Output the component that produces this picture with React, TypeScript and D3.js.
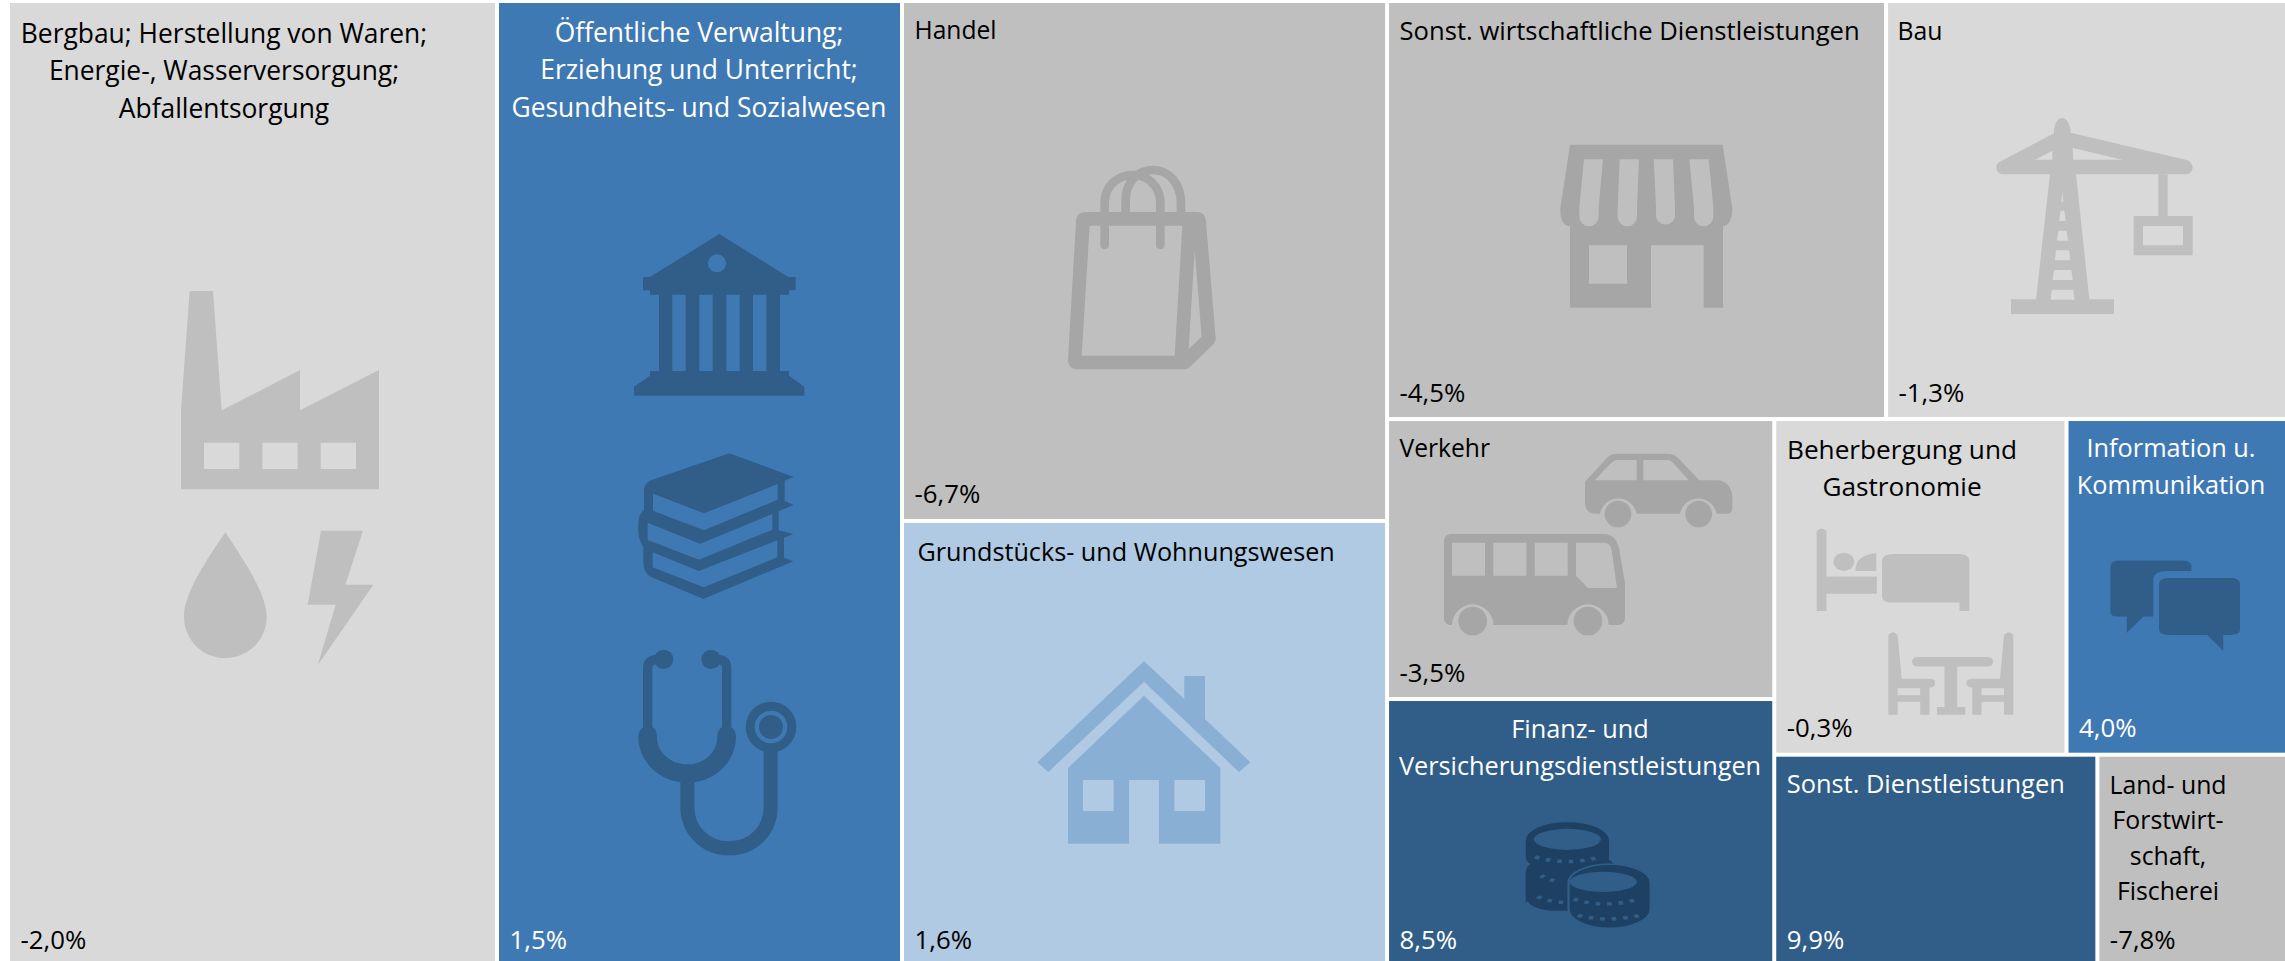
import React from "react";
import * as d3 from "d3";

const W = 2285, H = 961;
const LEFT = 10, TOP = 3;

// ---- data ----
const sectorIds = ["mining","public","trade","realestate","business","construction","transport","finance","hospitality","ict","otherServices","agriculture"];
const sectorLabels = [
  ["Bergbau; Herstellung von Waren;","Energie-, Wasserversorgung;","Abfallentsorgung"],
  ["Öffentliche Verwaltung;","Erziehung und Unterricht;","Gesundheits- und Sozialwesen"],
  ["Handel"],
  ["Grundstücks- und Wohnungswesen"],
  ["Sonst. wirtschaftliche Dienstleistungen"],
  ["Bau"],
  ["Verkehr"],
  ["Finanz- und","Versicherungsdienstleistungen"],
  ["Beherbergung und","Gastronomie"],
  ["Information u.","Kommunikation"],
  ["Sonst. Dienstleistungen"],
  ["Land- und","Forstwirt-","schaft,","Fischerei"],
];
const sectorSizes = [470.4,389.6,252.2,214.4,208.6,167.6,108.4,102.2,98.1,74.0,67.3,39.5];
const sectorChanges = [-2.0,1.5,-6.7,1.6,-4.5,-1.3,-3.5,8.5,-0.3,4.0,9.9,-7.8];
const sectorTones = ["gray","blue","mid","light","mid","gray","mid","dark","gray","blue","dark","mid"];

// ---- style ----
const toneNames = ["gray","mid","light","blue","dark"];
const toneFill = d3.scaleOrdinal<string,string>().domain(toneNames).range(["#D9D9D9","#BFBFBF","#AFCAE2","#3F79B4","#305E88"]);
const toneIcon = d3.scaleOrdinal<string,string>().domain(toneNames).range(["#BFBFBF","#A6A6A6","#8AAFD4","#305E88","#1E4062"]);
const toneText = d3.scaleOrdinal<string,string>().domain(toneNames).range(["#000","#000","#000","#fff","#fff"]);

// where the text sits inside each cell
const textLayout: Record<string,{cx:number|null,y:number,vy:number,fs:number,dx?:number}> = {
  mining:{cx:224,y:43,vy:949,fs:26.4},
  public:{cx:699,y:42,vy:949,fs:26.4},
  trade:{cx:null,y:39,vy:503,fs:24.6},
  realestate:{cx:null,y:561,vy:949,fs:25.2,dx:3},
  business:{cx:null,y:40,vy:402,fs:25.6},
  construction:{cx:null,y:40,vy:402,fs:24.8,dx:-1},
  transport:{cx:null,y:457,vy:682,fs:24.6},
  finance:{cx:1580,y:738,vy:949,fs:25.3},
  hospitality:{cx:1902,y:459,vy:737,fs:26.2},
  ict:{cx:2171,y:457,vy:737,fs:25.3},
  otherServices:{cx:null,y:793,vy:949,fs:25.4},
  agriculture:{cx:2168,y:794,vy:949,fs:24.8},
};
const VALUE_FS = 25.8;
const lineStep: Record<string,number> = {agriculture:35.4,hospitality:37,ict:37,finance:37};

type N = {id?:string,dir?:"h"|"v",value?:number,children?:N[]};
const leaf = (id:string):N => ({id,value:sectorSizes[sectorIds.indexOf(id)]});
const tree:N = {dir:"h",children:[
  leaf("mining"),leaf("public"),
  {dir:"v",children:[leaf("trade"),leaf("realestate")]},
  {dir:"v",children:[
    {dir:"h",children:[leaf("business"),leaf("construction")]},
    {dir:"h",children:[
      {dir:"v",children:[leaf("transport"),leaf("finance")]},
      {dir:"v",children:[
        {dir:"h",children:[leaf("hospitality"),leaf("ict")]},
        {dir:"h",children:[leaf("otherServices"),leaf("agriculture")]},
      ]},
    ]},
  ]},
]};

const tile = (node:any,x0:number,y0:number,x1:number,y1:number) =>
  (node.data.dir==="h"?d3.treemapDice:d3.treemapSlice)(node,x0,y0,x1,y1);

const root = d3.treemap<N>().tile(tile as any).size([W-LEFT,H-TOP]).paddingInner(4).round(false)(
  d3.hierarchy(tree).sum(d=>d.value||0)
);

const fmt = (v:number)=>v.toFixed(1).replace(".",",")+"%";

// ---- icons, drawn in the units of the crop they were traced from ----
const G = ({x,y,sx=1/3,sy=1/3,children}:any)=><g transform={`translate(${x},${y}) scale(${sx},${sy})`} fillRule="evenodd">{children}</g>;
const hole = (cx:number,cy:number,r:number)=>`M${cx-r} ${cy}A${r} ${r} 0 1 0 ${cx+r} ${cy}A${r} ${r} 0 1 0 ${cx-r} ${cy}Z`;

const Icons:Record<string,(c:string,bg:string)=>any> = {
  mining:()=> <G x={160} y={270}>
    <path d="M63 658V420L89 63H159L185 421L420 300V421L657 300V658ZM132 518H238V597H132ZM307 518H413V597H307ZM482 518H588V597H482Z"/>
    <path d="M196 787C140 870 72 970 72 1040C72 1110 128 1164 196 1164C264 1164 320 1110 320 1040C320 970 250 870 196 787Z"/>
    <path d="M483 782H609L556 944H640L473 1186L527 1004H443Z"/>
  </G>,
  public:(c)=> <>
    <G x={620} y={220}>
      <path d={"M298 42L505 171H527V211H507V224H480V453H507V467L553 500V527H42V500L90 467V453H117V224H90V211H69V171H90ZM157 224H197V453H157ZM238 224H278V453H238ZM319 224H359V453H319ZM399 224H439V453H399Z"+hole(291,130,27)}/>
      <path d="M328 700L521 771L494 782V843L521 855L476 874V931L520 942L492 953V1013L520 1024L250 1137L95 1072C72 1060 70 1040 70 1020V980C55 960 52 930 56 900C58 880 68 875 72 870V820C70 800 80 785 95 780ZM99 821L252 880L473 792V839L252 931L99 872ZM83 908L240 971L457 882V929L237 1019L83 960ZM98 997L236 1053L472 961V1012L251 1102L98 1042Z"/>
    </G>
    <G x={620} y={630}>
      <circle cx={131} cy={88} r={29}/><circle cx={273} cy={88} r={29}/>
      <path d="M83 300V115Q83 90 110 88M320 300V115Q320 90 295 88" fill="none" stroke={c} strokeWidth={28}/>
      <path d="M55 320C55 295 75 287 83 287C100 287 111 300 111 320C111 365 150 403 202 403C254 403 292 365 292 320C292 300 305 287 320 287C335 287 348 300 348 320C348 395 285 458 202 458C119 458 55 395 55 320Z"/>
      <path d="M202 450V530C202 600 255 655 327 655C400 655 452 600 452 530V360" fill="none" stroke={c} strokeWidth={42}/>
      <path d={hole(453,291,76)+hole(453,291,49)}/>
      <circle cx={453} cy={291} r={36}/>
    </G>
  </>,
  trade:(c)=> <G x={1040} y={150}>
    <path d="M135 186H472C488 186 498 198 498 215L527 565C527 575 522 580 518 585L450 650C445 655 440 658 430 658H110C95 658 84 645 84 630L108 215C108 198 120 186 135 186ZM149 227H427L404 617H125ZM464 300L485 560L446 597Z"/>
    <path d="M194 285V160C194 105 235 75 280 75C325 75 361 110 361 160V285" fill="none" stroke={c} strokeWidth={26} strokeLinecap="round"/>
    <path d="M257 190V150C257 95 295 60 340 60C385 60 423 100 423 160V190" fill="none" stroke={c} strokeWidth={26}/>
  </G>,
  realestate:()=> <G x={1020} y={640}>
    <path d="M372 63L493 177V108H555V237L691 367L657 396L372 125L85 396L52 367Z"/>
    <path d="M372 167L601 384V611H417V420H327V611H144V384ZM189 420H281V513H189ZM463 420H555V513H463Z"/>
  </G>,
  business:()=> <G x={1540} y={130}>
    <path d="M90 44H548L577 235C578 265 565 288 549 289V533H491V346H333V533H90V289C70 288 60 270 61 235ZM147 346H261V461H147ZM132 88H189L176 232V260A29 29 0 0 1 118 260V232ZM239 88H297L291 232V260A29 29 0 0 1 233 260V232ZM341 88H399L405 232V260A29 29 0 0 1 348 260V232ZM448 88H506L520 232V260A29 29 0 0 1 462 260V232Z"/>
  </G>,
  construction:()=> <G x={1990} y={120}>
    <path d="M192 40C190 10 205 -6 217 -6C230 -6 242 15 242 38L590 120C600 122 608 135 608 142C608 152 600 163 590 163H258L298 538H372V582H63V538H138L180 163H38C25 163 19 150 19 142C19 130 28 125 35 122ZM187 92V119H135ZM248 84L398 119H250ZM217 215L220 245H214ZM212 272H223L227 303H207ZM205 332H230L234 362H201ZM198 391H237L241 421H195ZM192 450H244L248 480H188ZM185 509H250L254 539H182Z"/>
    <path d="M505 163H533V288H608V406H431V288H505ZM459 318H579V376H459Z"/>
  </G>,
  transport:()=> <G x={1430} y={440}>
    <path d="M465 125L530 55C537 45 550 41 560 41H710C725 41 735 45 745 55L808 121H860C890 121 907 145 907 170V205C907 215 900 221 892 221H860A56 56 0 0 0 750 221H620A56 56 0 0 0 510 221H495C475 221 465 205 465 190ZM494 121L540 72Q552 60 560 60H620V121ZM640 60H715Q722 60 730 70L777 121H640Z"/>
    <circle cx={564} cy={222} r={40}/><circle cx={806} cy={222} r={40}/>
    <path d="M42 305C42 290 52 282 65 282H520C550 282 565 305 568 330L585 430V535C585 548 575 555 565 555H536A62 62 0 0 0 412 555H190A62 62 0 0 0 66 555H60C50 555 42 545 42 535ZM66 308H165V407H66ZM190 308H289V407H190ZM314 308H413V407H314ZM438 308H525C535 308 543 318 545 330L561 444H474L438 407Z"/>
    <circle cx={128} cy={543} r={43}/><circle cx={474} cy={543} r={43}/>
  </G>,
  hospitality:()=> <G x={1380} y={410} sx={1/1.729} sy={1/2.846}>
    <path d="M755 345Q763 330 772 345V474H859V523H772V572H755Z"/>
    <ellipse cx={802} cy={432} rx={18} ry={26}/>
    <path d="M822 458Q822 412 858 408V458Z"/>
    <path d="M868 430Q868 410 888 410H1000Q1019 410 1019 430V572H1002V548H885Q868 548 868 530Z"/>
    <path d="M930 703H1050Q1060 703 1060 716Q1060 730 1050 730H998V845H1012V867H963V845H976V730H930Q920 730 920 716Q920 703 930 703Z"/>
    <path d="M879 640Q887 625 895 640L902 765H950Q960 765 960 778Q960 790 950 790V867H934V830H895V867H879ZM895 792H934V812H895Z"/>
    <path transform="translate(1974,0) scale(-1,1)" d="M879 640Q887 625 895 640L902 765H950Q960 765 960 778Q960 790 950 790V867H934V830H895V867H879ZM895 792H934V812H895Z"/>
  </G>,
  ict:()=> <G x={1380} y={410} sx={1/1.729} sy={1/2.846}>
    <path d="M1263 445Q1263 428 1280 428H1385Q1403 428 1403 445V458H1362Q1337 458 1337 485V588H1320L1291 635V588H1275Q1263 588 1263 575Z"/>
    <path d="M1347 495Q1347 478 1365 478H1470Q1487 478 1487 495V625Q1487 640 1470 640H1458V685L1430 640H1365Q1347 640 1347 625Z"/>
  </G>,
  finance:(_c,bg)=> <G x={1380} y={410} sx={1/1.729} sy={1/2.846}>
    <path d="M252 1225A72 52 0 0 1 396 1225V1280Q407 1290 407 1310L252 1400V1320Q252 1300 260 1292Q252 1285 252 1270Z"/>
    <path d="M252 1320H330V1425H300Q252 1420 252 1380Z"/>
    <path d="M326 1345A71 52 0 0 1 468 1345V1420A71 55 0 0 1 326 1420Z" stroke={bg} strokeWidth={4}/>
    <ellipse cx={324} cy={1222} rx={58} ry={30} fill={bg}/>
    <ellipse cx={386} cy={1343} rx={58} ry={29} fill={bg}/>
    <g fill="none" stroke={bg} strokeWidth={10} strokeDasharray="8 12">
      <path d="M268 1272Q324 1298 380 1272"/>
      <path d="M272 1385Q295 1400 320 1402"/>
      <path d="M335 1392Q390 1420 445 1392"/>
      <path d="M342 1438Q395 1460 455 1436"/>
      <path d="M278 1325Q290 1335 312 1345"/>
    </g>
  </G>,
};

const FONT = "'Open Sans', sans-serif";

export default function App(){
  const leaves = root.leaves().map(n=>({id:n.data.id!,x0:n.x0+LEFT,x1:n.x1+LEFT,y0:n.y0+TOP,y1:n.y1+TOP}));
  return (
    <svg width={W} height={H} viewBox={`0 0 ${W} ${H}`} style={{position:"absolute",left:0,top:0,display:"block",background:"#fff"}}>
      {leaves.map(n=>{
        const i = sectorIds.indexOf(n.id);
        return <rect key={n.id} x={n.x0} y={n.y0} width={n.x1-n.x0} height={n.y1-n.y0} fill={toneFill(sectorTones[i])}/>;
      })}
      {leaves.map(n=>{
        const tone = sectorTones[sectorIds.indexOf(n.id)];
        const c = toneIcon(tone);
        return <g key={n.id} fill={c}>{Icons[n.id]?.(c,toneFill(tone))}</g>;
      })}
      {leaves.map(n=>{
        const i = sectorIds.indexOf(n.id);
        const tone = sectorTones[i];
        const t = textLayout[n.id];
        const lay = t.cx!==null;
        const step = lineStep[n.id]??37.3;
        return <g key={n.id} fontFamily={FONT} fill={toneText(tone)} stroke="none">
          {sectorLabels[i].map((l,k)=><text key={k} fontSize={t.fs} x={lay?t.cx!:n.x0+10.5+(t.dx||0)} y={t.y+k*step} textAnchor={lay?"middle":"start"}>{l}</text>)}
          <text fontSize={VALUE_FS} x={n.x0+10.5} y={t.vy}>{fmt(sectorChanges[i])}</text>
        </g>;
      })}
    </svg>
  );
}
